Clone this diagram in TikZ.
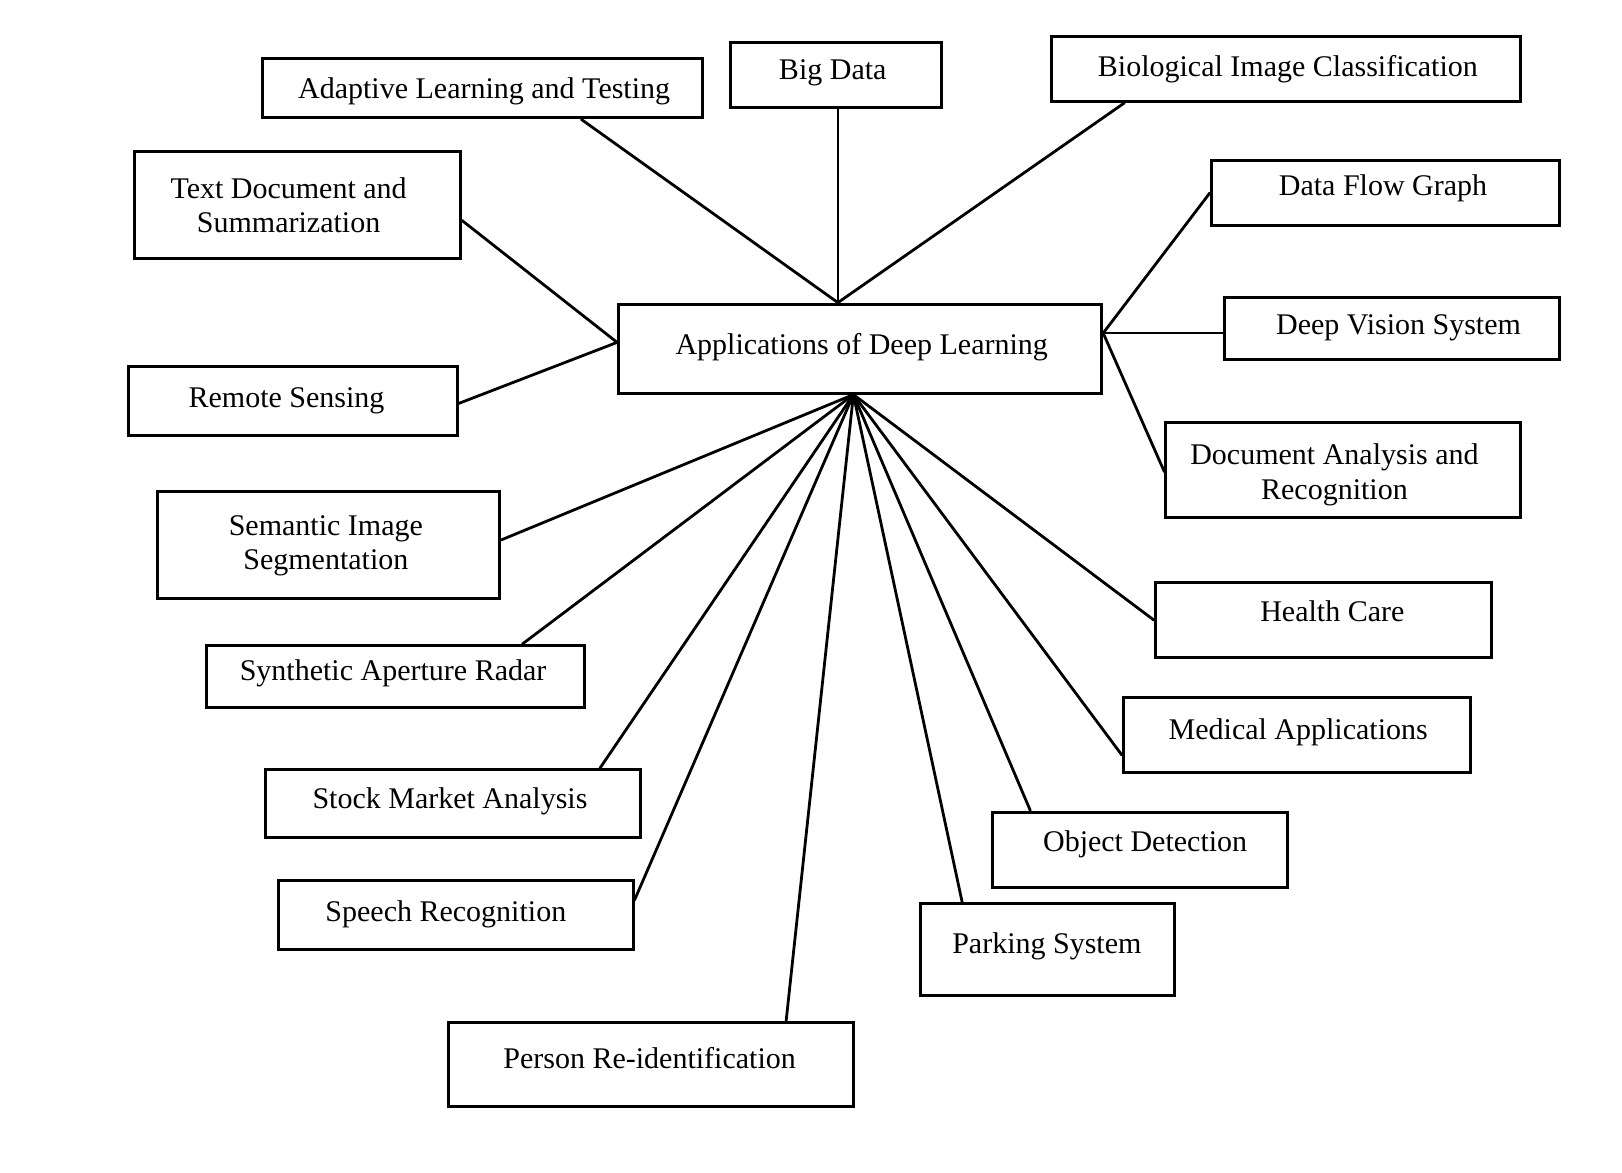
\documentclass[tikz,border=0pt]{standalone}
\usepackage{fontspec}
\setmainfont{Liberation Serif}
\usetikzlibrary{calc}
\tikzset{
  box/.style={draw, line width=1.45pt, inner sep=0pt},
  lbltwo/.style={font=\fontsize{14.5}{16.5}\selectfont, align=center, inner sep=0pt},
  lbl/.style={lbltwo, text height=10pt, text depth=3pt},
  conn/.style={line width=1.35pt, line cap=round},
}
\newcommand\bx[9][lbl]{%
  \pgfmathsetmacro\cx{(#3+#5)/2}\pgfmathsetmacro\cy{(#4+#6)/2}%
  \pgfmathsetmacro\ww{(#5-#3)*0.5}\pgfmathsetmacro\hh{(#6-#4)*0.5}%
  \pgfmathsetmacro\dx{(#7-\cx)*0.5}\pgfmathsetmacro\dy{-(#8-\cy)*0.5}%
  \node[box, minimum width=\ww pt, minimum height=\hh pt,
    label={[#1,xshift=\dx pt,yshift=\dy pt]center:{#9}}] (#2) at (\cx,\cy) {};}
\begin{document}
\begin{tikzpicture}[x=0.5pt,y=-0.5pt]
\useasboundingbox (0,0) rectangle (1568,1133);
\fill[white] (0,0) rectangle (1568,1133);
% boxes
\bx{ad}{254}{57}{679}{114}{468}{88}{Adaptive Learning and Testing}
\bx{bd}{706}{41}{910}{104}{805}{70}{Big Data}
\bx{bio}{1016}{35}{1470}{98}{1245}{67}{Biological Image Classification}
\bx[lbltwo]{td}{130}{146}{445}{250}{279}{198}{Text Document and\\Summarization}
\bx{dfg}{1171}{155}{1508}{218}{1337}{182}{Data Flow Graph}
\bx{hub}{598}{294}{1065}{380}{833}{336}{Applications of Deep Learning}
\bx{dv}{1184}{288}{1508}{348}{1352}{316}{Deep Vision System}
\bx{rs}{124}{354}{442}{421}{277}{387}{Remote Sensing}
\bx[lbltwo]{da}{1127}{408}{1470}{500}{1290}{459}{Document Analysis and\\Recognition}
\bx[lbltwo]{sis}{152}{475}{483}{579}{315}{528}{Semantic Image\\Segmentation}
\bx{hc}{1117}{563}{1442}{636}{1288}{594}{Health Care}
\bx{sar}{200}{624}{565}{684}{380}{651}{Synthetic Aperture Radar}
\bx{ma}{1086}{674}{1422}{747}{1255}{708}{Medical Applications}
\bx{sma}{257}{744}{619}{810}{435}{775}{Stock Market Analysis}
\bx{od}{959}{785}{1245}{858}{1107}{816}{Object Detection}
\bx{sr}{269}{851}{612}{918}{431}{884}{Speech Recognition}
\bx{ps}{890}{873}{1135}{962}{1012}{915}{Parking System}
\bx{pri}{434}{988}{825}{1070}{628}{1026}{Person Re-identification}
% hub attachment points
\coordinate (hubT) at ([xshift=-10.75pt]hub.north);
\coordinate (hubB) at ([xshift=-3.25pt]hub.south);
\coordinate (hubL) at ([yshift=3pt]hub.west);
\coordinate (hubR) at ([yshift=7.5pt]hub.east);
% connectors
\draw[conn] ([xshift=47.75pt]ad.south) -- (hubT);
\draw[conn] ([xshift=1pt]bd.south) -- (hubT);
\draw[conn] ([xshift=-78pt]bio.south) -- (hubT);
\draw[conn] ([yshift=-7.5pt]td.east) -- (hubL);
\draw[conn] ([yshift=-1.25pt]rs.east) -- (hubL);
\draw[conn] (dfg.west) -- (hubR);
\draw[conn] ([yshift=-2pt]dv.west) -- (hubR);
\draw[conn] ([yshift=-1pt]da.west) -- (hubR);
\draw[conn] ([yshift=2.5pt]sis.east) -- (hubB);
\draw[conn] ([xshift=61.25pt]sar.north) -- (hubB);
\draw[conn] ([xshift=71pt]sma.north) -- (hubB);
\draw[conn] ([yshift=7.25pt]sr.east) -- (hubB);
\draw[conn] ([xshift=65.25pt]pri.north) -- (hubB);
\draw[conn] ([xshift=-41.25pt]ps.north) -- (hubB);
\draw[conn] ([xshift=-53pt]od.north) -- (hubB);
\draw[conn] ([yshift=-9.75pt]ma.west) -- (hubB);
\draw[conn] (hc.west) -- (hubB);
\end{tikzpicture}
\end{document}
